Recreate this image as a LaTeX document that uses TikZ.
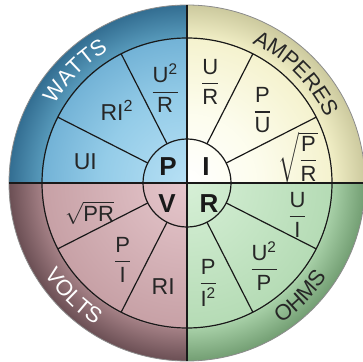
\RequirePackage{fix-cm}
\documentclass[tikz,border=0pt]{standalone}
\usepackage{fontspec}
\setmainfont{Liberation Sans}
\usepackage{amsmath}
\usetikzlibrary{decorations.text}

% one shading per quadrant (25bp = rim, 20.4bp = ring)
\pgfdeclareradialshading{wattsshade}{\pgfpoint{0bp}{0bp}}{rgb(0bp)=(0.72,0.88,0.96); rgb(12bp)=(0.58,0.80,0.91); rgb(20.3bp)=(0.45,0.70,0.84); rgb(20.5bp)=(0.34,0.60,0.73); rgb(25bp)=(0.20,0.43,0.57); rgb(50bp)=(0.20,0.43,0.57)}
\pgfdeclareradialshading{amperesshade}{\pgfpoint{0bp}{0bp}}{rgb(0bp)=(1,1,1); rgb(10bp)=(0.99,0.99,0.93); rgb(20.3bp)=(0.96,0.95,0.81); rgb(20.5bp)=(0.94,0.93,0.77); rgb(25bp)=(0.80,0.79,0.62); rgb(50bp)=(0.80,0.79,0.62)}
\pgfdeclareradialshading{ohmsshade}{\pgfpoint{0bp}{0bp}}{rgb(0bp)=(0.84,0.94,0.84); rgb(20.3bp)=(0.71,0.86,0.71); rgb(20.5bp)=(0.65,0.81,0.65); rgb(25bp)=(0.45,0.62,0.45); rgb(50bp)=(0.45,0.62,0.45)}
\pgfdeclareradialshading{voltsshade}{\pgfpoint{0bp}{0bp}}{rgb(0bp)=(0.90,0.78,0.80); rgb(20.3bp)=(0.78,0.63,0.65); rgb(20.5bp)=(0.64,0.50,0.52); rgb(25bp)=(0.42,0.31,0.33); rgb(50bp)=(0.42,0.31,0.33)}

\newcommand\ringfont{\fontsize{22}{22}\selectfont}
\newcommand\fr[2]{\genfrac{}{}{1.3pt}{0}{\text{#1}}{\text{#2}}}

\tikzset{
  divider/.style={line width=1.2pt, black!90},
  axisline/.style={line width=2.4pt, black!90},
  formula/.style={font=\fontsize{22}{24}\selectfont, text=black!85, inner sep=0pt},
  plain/.style={formula, font=\fontsize{23}{24}\selectfont},
  qty/.style={font=\fontsize{26}{28}\selectfont\bfseries, text=black!90, inner sep=0pt}
}

\begin{document}
\begin{tikzpicture}[x=1pt,y=1pt]
  \useasboundingbox (-187,-178) rectangle (176,183);
  \coordinate (c) at (0,0);

  % quadrants
  \foreach \sh/\a in {amperesshade/0, wattsshade/90, voltsshade/180, ohmsshade/270}{
    \begin{scope}
      \clip (c) -- (\a:180) arc[start angle=\a, end angle=\a+90, radius=180] -- cycle;
      \shade[shading=\sh] (c) circle (178);
    \end{scope}
  }

  % rings and dividers
  \draw[black!45, line width=0.8pt] (c) circle (178);
  \draw[divider] (c) circle (145);
  \draw[divider] (c) circle (44);
  \foreach \a in {27,63,117,153,207,243,297,333}
    \draw[divider] (\a:44) -- (\a:145);
  \draw[axisline] (-178,0) -- (178,0);
  \draw[axisline] (0,-178) -- (0,178);

  % ring labels
  \path[decorate, decoration={text along path, text align=center, text color=white,
    text={|\ringfont|WATTS}}] (180:154) arc[start angle=180, end angle=90, radius=154];
  \path[decorate, decoration={text along path, text align=center, text color=black!85,
    text={|\ringfont|AMPERES}}] (90:154) arc[start angle=90, end angle=0, radius=154];
  \path[decorate, decoration={text along path, text align=center, text color=white,
    text={|\ringfont|VOLTS}}] (180:169) arc[start angle=180, end angle=270, radius=169];
  \path[decorate, decoration={text along path, text align=center, text color=black!85,
    text={|\ringfont|OHMS}}] (270:169) arc[start angle=270, end angle=360, radius=169];

  % centre
  \node[qty] (qP) at (-19,16) {P};
  \node[qty] (qI) at (19,16) {I};
  \node[qty] (qV) at (-20,-21) {V};
  \node[qty] (qR) at (22,-21) {R};

  % watts
  \node[formula] (wattsUR) at (103:97) {$\fr{U\textsuperscript{2}}{R}$};
  \node[plain] (wattsRI) at (134:101) {RI\textsuperscript{2}};
  \node[plain] (wattsUI) at (168:104) {UI};
  % amperes
  \node[formula] (ampUR) at (77:104) {$\fr{U}{R}$};
  \node[formula] (ampPU) at (44:105) {$\fr{P}{U}$};
  \node[formula] (ampPR) at (13:114) {$\sqrt{\fr{P}{R}}$};
  % ohms
  \node[formula] (ohmUI) at (-16:115) {$\fr{U}{I}$};
  \node[formula] (ohmUP) at (-47:113) {$\fr{U\textsuperscript{2}}{P}$};
  \node[formula] (ohmPI) at (-78:102) {$\fr{P}{I\textsuperscript{2}}$};
  % volts
  \node[formula] (voltPR) at (197:102) {$\sqrt{\text{PR}}$};
  \node[formula] (voltPI) at (230:100) {$\fr{P}{I}$};
  \node[plain] (voltRI) at (257:106) {RI};
\end{tikzpicture}
\end{document}
